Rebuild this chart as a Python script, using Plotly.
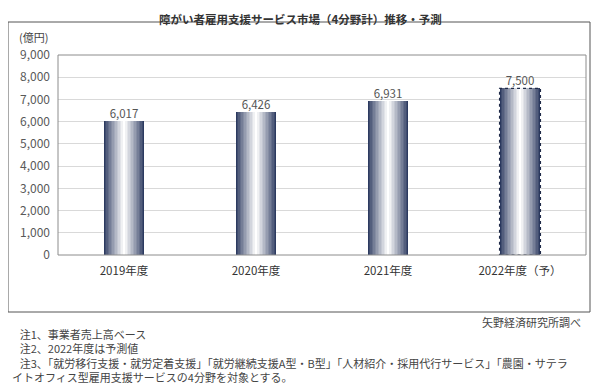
import plotly.graph_objects as go

categories = ["2019年度", "2020年度", "2021年度", "2022年度（予）"]
values = [6017, 6426, 6931, 7500]
value_labels = ["6,017", "6,426", "6,931", "7,500"]
y_ticks = [0, 1000, 2000, 3000, 4000, 5000, 6000, 7000, 8000, 9000]
forecast_index = 3

title = "障がい者雇用支援サービス市場（4分野計）推移・予測"
unit_label = "(億円)"
source = "矢野経済研究所調べ"
notes = [
    "注1、事業者売上高ベース",
    "注2、2022年度は予測値",
    "注3、「就労移行支援・就労定着支援」「就労継続支援A型・B型」「人材紹介・採用代行サービス」「農園・サテラ",
    "イトオフィス型雇用支援サービスの4分野を対象とする。",
]

# page body has an 8px margin; figure starts at (8, 8) in the window
OFF = 8
W, H = 600 - OFF, 384 - OFF
# plot area in window pixels: x 58..586, y 55..255
PL, PR, PT, PB = 58, 586, 55, 255
L, T = PL - OFF, PT - OFF
R, B = W - (PR - OFF), H - (PB - OFF)
pw, ph = PR - PL, PB - PT

def px(x):
    return (x - PL) / pw

def py(y):
    return (PB - y) / ph

FONT = "Noto Sans CJK JP"
fig = go.Figure()

# gradient bars: overlaid layers, dark outer -> white center
dark = (44, 58, 96)
n_layers = 14
bar_w = 0.31
for i in range(n_layers):
    t = i / (n_layers - 1)
    f = t ** 0.9
    c = tuple(int(dark[k] + (255 - dark[k]) * f) for k in range(3))
    w = bar_w * (1 - 0.93 * t)
    fig.add_trace(go.Bar(
        x=categories, y=values, width=w,
        marker=dict(color="rgb(%d,%d,%d)" % c, line=dict(width=0)),
        hoverinfo="skip", showlegend=False,
    ))

# data labels
fig.add_trace(go.Scatter(
    x=categories, y=values, mode="text", text=value_labels,
    textposition="top center",
    textfont=dict(family=FONT, size=11.5, color="#555555"),
    showlegend=False, hoverinfo="skip", cliponaxis=False,
))

# dashed outline on forecast bar
fi = forecast_index
fig.add_shape(type="rect", xref="x", yref="y",
              x0=fi - bar_w / 2, x1=fi + bar_w / 2, y0=0, y1=values[fi],
              line=dict(color="#1f2a48", width=1.2, dash="dot"))

# outer frame
fig.add_shape(type="rect", xref="paper", yref="paper",
              x0=px(8), x1=px(590), y0=py(312), y1=py(22),
              line=dict(color="#555555", width=1))
# plot area frame
fig.add_shape(type="rect", xref="paper", yref="paper",
              x0=0, x1=1, y0=0, y1=1,
              line=dict(color="#8c8c8c", width=1))

indent = "\u2002\u2009"
notes_text = "<br>".join([indent + n for n in notes[:3]] + [notes[3]])

anns = [
    dict(text="<b>" + title + "</b>", x=px(300), y=py(8.5), xanchor="center", yanchor="top",
         font=dict(family=FONT, size=11.5, color="#333333")),
    dict(text=unit_label, x=px(17), y=py(37), xanchor="left", yanchor="middle",
         font=dict(family=FONT, size=11, color="#444444")),
    dict(text=source, x=px(583), y=py(322), xanchor="right", yanchor="middle",
         font=dict(family=FONT, size=11, color="#444444")),
    dict(text=notes_text, x=px(10), y=py(355.5), xanchor="left", yanchor="middle",
         align="left", font=dict(family=FONT, size=11, color="#444444")),
]
for a in anns:
    a.update(xref="paper", yref="paper", showarrow=False)

fig.update_layout(
    width=W, height=H,
    margin=dict(l=L, r=R, t=T, b=B),
    paper_bgcolor="white", plot_bgcolor="white",
    barmode="overlay", bargap=0,
    annotations=anns,
    showlegend=False,
    xaxis=dict(type="category", showgrid=False, showline=False, zeroline=False,
               tickfont=dict(family=FONT, size=11.5, color="#333333"),
               ticklabelstandoff=7),
    yaxis=dict(range=[0, 9000], tickvals=y_ticks, tickformat=",d",
               showgrid=True, gridcolor="#d9d9d9", gridwidth=1,
               zeroline=False, showline=False,
               tickfont=dict(family=FONT, size=12, color="#595959"),
               ticklabelstandoff=7),
)

fig.write_html("out.html")
